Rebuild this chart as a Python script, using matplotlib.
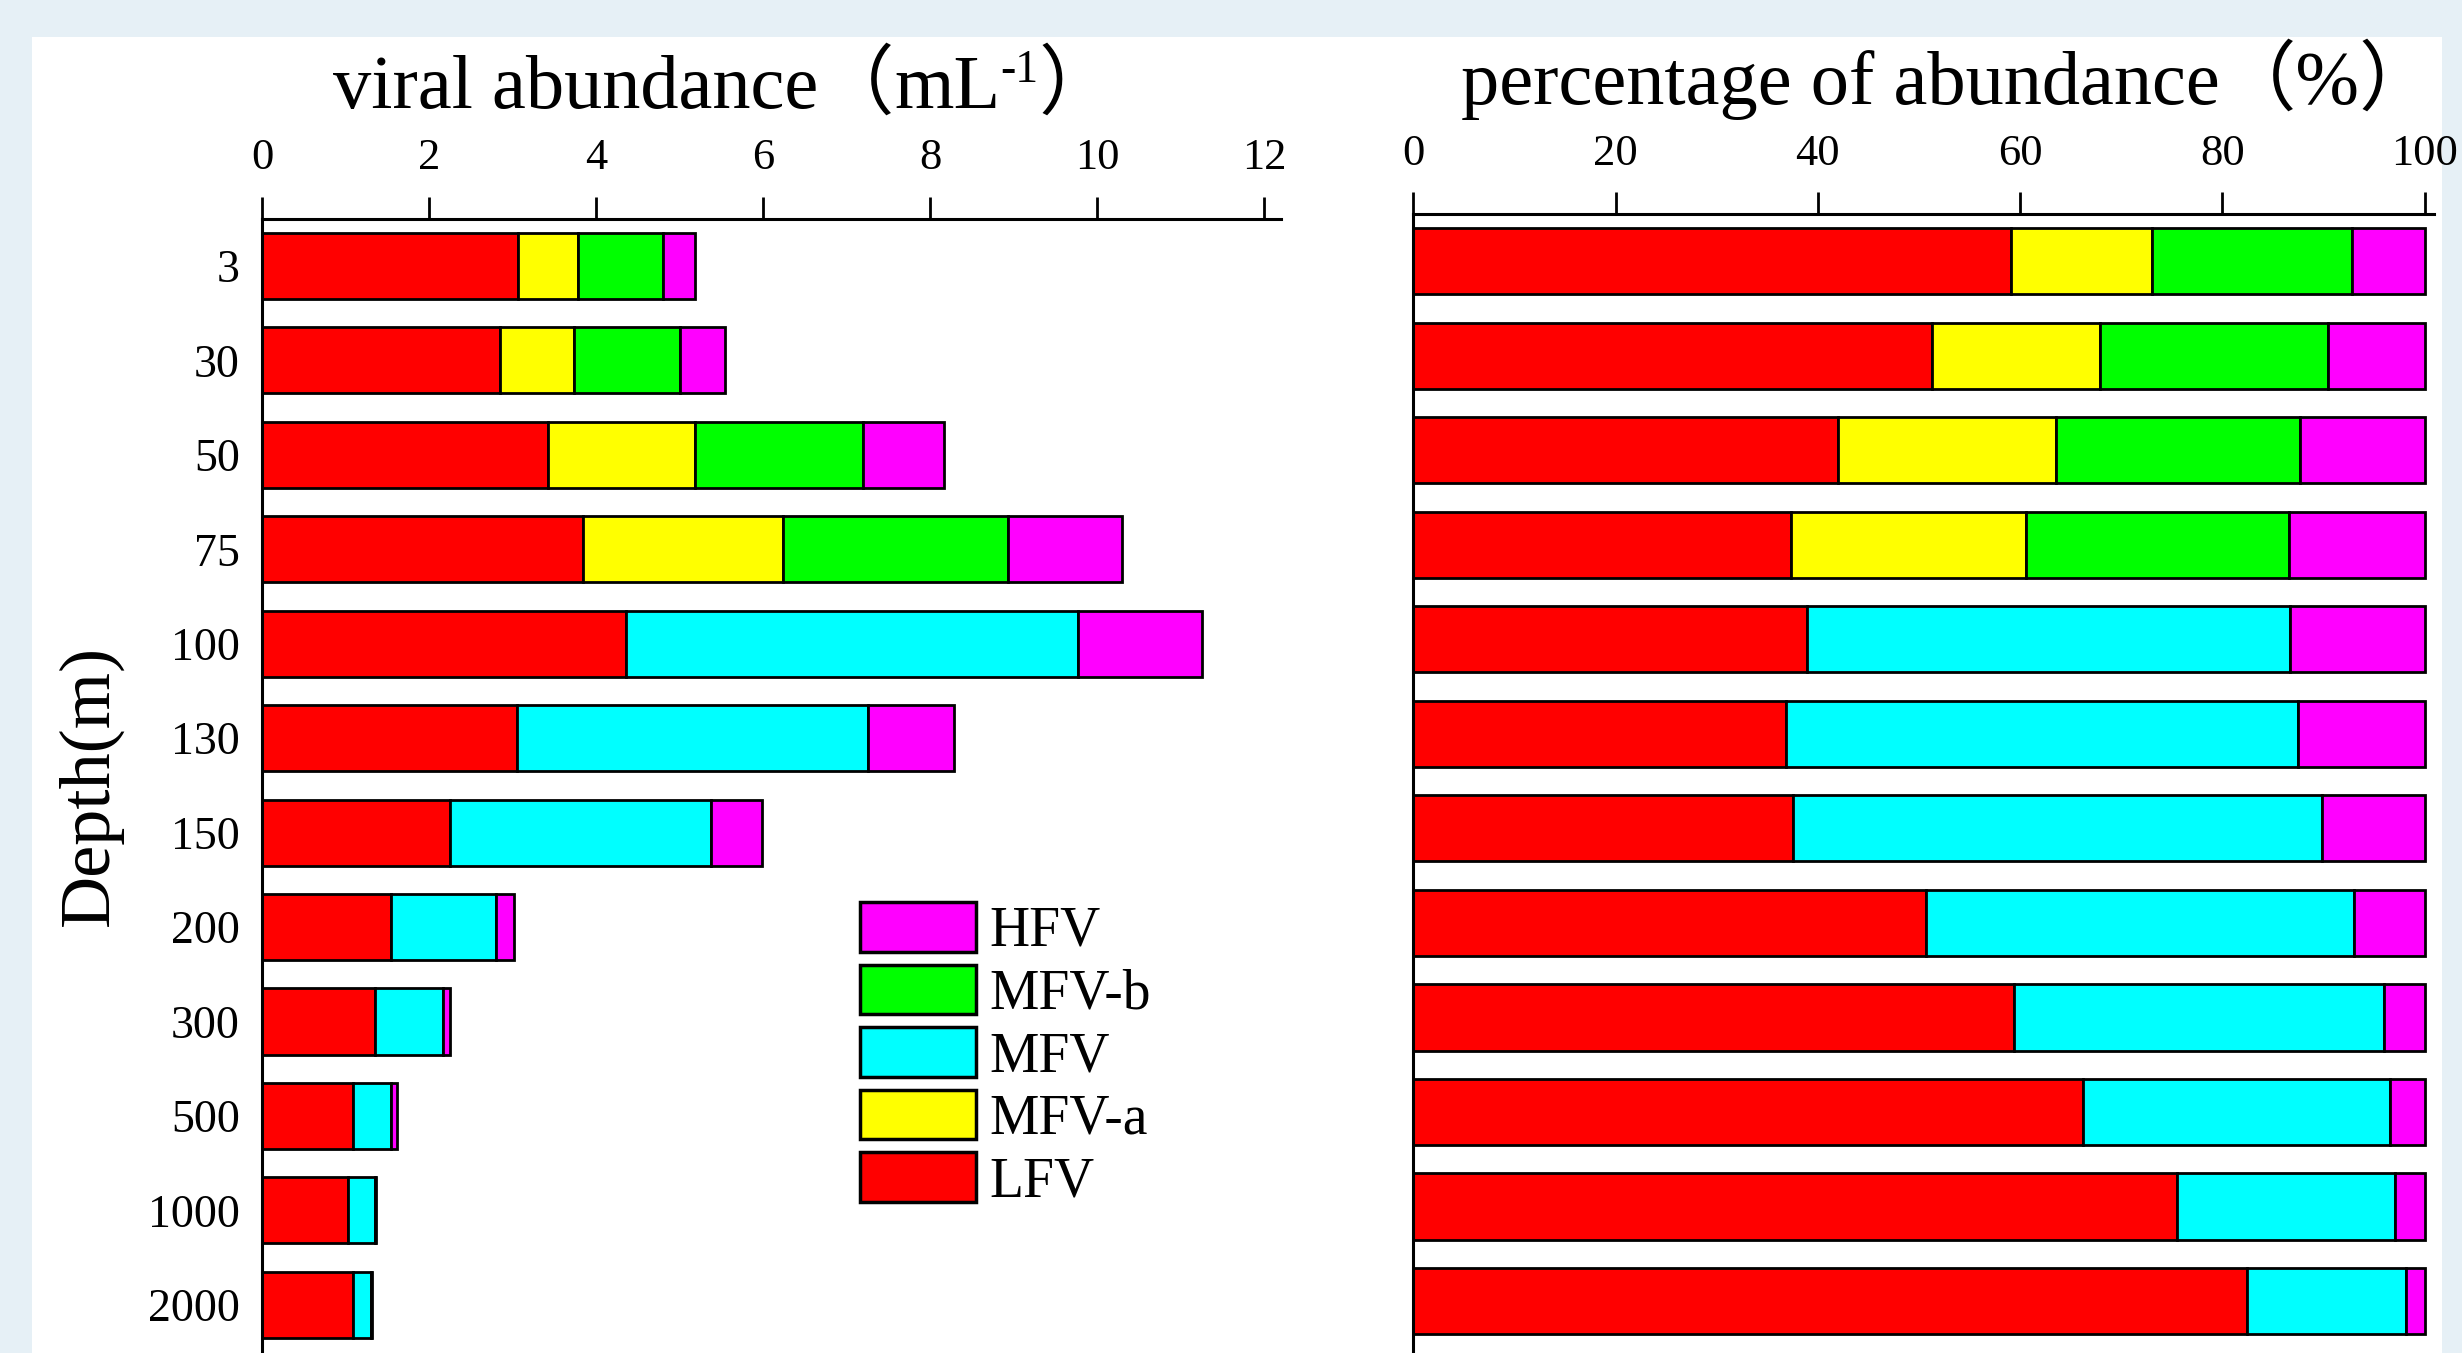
import matplotlib
matplotlib.use("Agg")
import matplotlib.pyplot as plt
from matplotlib.patches import Rectangle, Patch
import numpy as np

plt.rcParams['font.family'] = ['Liberation Serif', 'Noto Sans CJK SC', 'DejaVu Sans']

depths = ['3', '30', '50', '75', '100', '130', '150', '200', '300', '500', '1000', '2000']
series = ['LFV', 'MFV-a', 'MFV', 'MFV-b', 'HFV']
colors = ['#FF0000', '#FFFF00', '#00FFFF', '#00FF00', '#FF00FF']

# viral abundance (mL-1), segment values
abund_LFV  = [3.07, 2.85, 3.42, 3.84, 4.36, 3.05, 2.25, 1.54, 1.35, 1.09, 1.03, 1.09]
abund_MFVa = [0.71, 0.89, 1.77, 2.40, 0, 0, 0, 0, 0, 0, 0, 0]
abund_MFV  = [0, 0, 0, 0, 5.41, 4.21, 3.13, 1.26, 0.82, 0.45, 0.32, 0.21]
abund_MFVb = [1.02, 1.26, 2.00, 2.69, 0, 0, 0, 0, 0, 0, 0, 0]
abund_HFV  = [0.38, 0.54, 0.98, 1.37, 1.49, 1.02, 0.61, 0.22, 0.08, 0.08, 0.02, 0.02]

# percentage of abundance (%)
pct_LFV  = [59.1, 51.3, 42.0, 37.3, 38.9, 36.9, 37.5, 50.7, 59.4, 66.2, 75.5, 82.4]
pct_MFVa = [13.9, 16.6, 21.6, 23.3, 0, 0, 0, 0, 0, 0, 0, 0]
pct_MFV  = [0, 0, 0, 0, 47.8, 50.6, 52.4, 42.3, 36.6, 30.4, 21.6, 15.8]
pct_MFVb = [19.8, 22.6, 24.1, 26.0, 0, 0, 0, 0, 0, 0, 0, 0]
pct_HFV  = [7.2, 9.5, 12.3, 13.4, 13.3, 12.5, 10.1, 7.0, 4.0, 3.4, 2.9, 1.8]

abund = [abund_LFV, abund_MFVa, abund_MFV, abund_MFVb, abund_HFV]
pct = [pct_LFV, pct_MFVa, pct_MFV, pct_MFVb, pct_HFV]

W, H = 2462, 1353
fig = plt.figure(figsize=(W / 100, H / 100), dpi=100)
fig.patch.set_facecolor('#E6F0F6')
fig.add_artist(Rectangle((32 / W, 0), (2442 - 32) / W, (H - 37) / H,
                         transform=fig.transFigure, facecolor='white', edgecolor='none', zorder=0))

ax1 = fig.add_axes([262 / W, 0, (1281 - 262) / W, 1 - 218.7 / H])
ax2 = fig.add_axes([1413.4 / W, 0, (2433.6 - 1413.4) / W, 1 - 214 / H])

y = np.arange(len(depths))
for ax, data in ((ax1, abund), (ax2, pct)):
    ax.set_facecolor('none')
    left = np.zeros(len(depths))
    for vals, c in zip(data, colors):
        vals = np.array(vals, dtype=float)
        mask = vals > 0
        ax.barh(y[mask], vals[mask], left=left[mask], height=0.7, color=c,
                edgecolor='black', linewidth=2.0)
        left += vals
    for s in ('right', 'bottom'):
        ax.spines[s].set_visible(False)
    for s in ('top', 'left'):
        ax.spines[s].set_linewidth(2.2)
    ax.xaxis.tick_top()
    ax.tick_params(axis='x', direction='out', length=16, width=2, pad=13, labelsize=32)
    ax.tick_params(axis='y', length=0, pad=16, labelsize=33)

ax1.set_xlim(0, 12.2)
ax1.set_xticks([0, 2, 4, 6, 8, 10, 12])
ax1.set_ylim(11.51, -0.5)
ax1.set_yticks(y)
ax1.set_yticklabels(depths)

ax2.set_xlim(0, 100.9)
ax2.set_xticks([0, 20, 40, 60, 80, 100])
ax2.set_ylim(11.55, -0.5)
ax2.set_yticks([])

renderer = fig.canvas.get_renderer()


def piece_title(pieces, xc_px, ybase_px, size):
    """pieces: list of (text, size_factor, raise_px)"""
    texts = []
    widths = []
    for s, f, r in pieces:
        t = fig.text(0, 0, s, fontsize=size * f, ha='left', va='baseline')
        widths.append(t.get_window_extent(renderer).width)
        texts.append(t)
    x = xc_px - sum(widths) / 2
    for t, w, (s, f, r) in zip(texts, widths, pieces):
        t.set_position((x / W, 1 - (ybase_px - r) / H))
        x += w


piece_title([('viral abundance', 1, 0), ('（', 1, 0), ('mL', 1, 0), ('-1', 0.6, 26), ('）', 1, 0)],
            724, 108, 55)
piece_title([('percentage of abundance', 1, 0), ('（%）', 1, 0)], 1949, 104, 55)

fig.text(90 / W, 1 - 786 / H, 'Depth(m)', rotation=90, ha='center', va='center', fontsize=52)

handles = [Patch(facecolor=colors[i], edgecolor='black', linewidth=2.5, label=series[i])
           for i in [4, 3, 2, 1, 0]]
fig.legend(handles=handles, loc='upper left', bbox_to_anchor=(860 / W, 1 - 902 / H),
           bbox_transform=fig.transFigure, frameon=False, fontsize=40,
           handlelength=2.09, handleheight=1.0, handletextpad=0.24, labelspacing=0.12,
           borderpad=0, borderaxespad=0)

fig.savefig('out.png', dpi=100, facecolor=fig.get_facecolor())
